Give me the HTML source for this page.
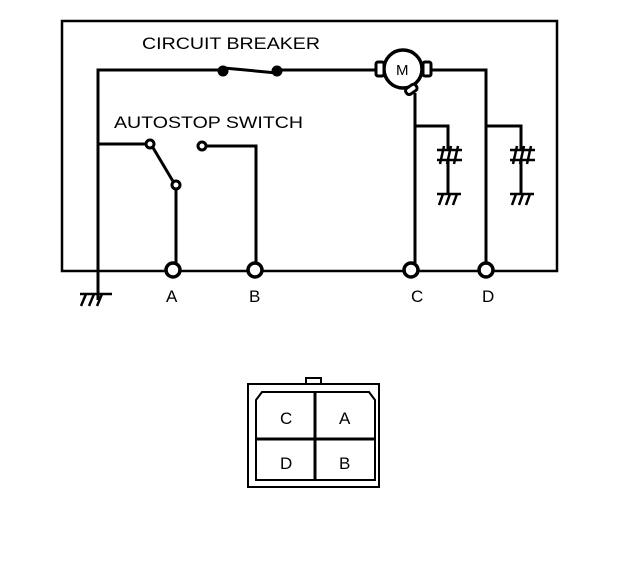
<!DOCTYPE html>
<html><head><style>
body{margin:0;background:#fff;width:640px;height:568px;overflow:hidden}
text{font-family:"Liberation Sans",sans-serif;fill:#000}
</style></head><body>
<svg width="640" height="568" viewBox="0 0 640 568" xmlns="http://www.w3.org/2000/svg">
<g fill="none" stroke="#000" stroke-width="3">
<rect x="62" y="21" width="495" height="250" stroke-width="2.5"/>
<path d="M98 300 V70 H222 M224 68 L277 73 M277 70 H380 M432 70 H486 V270"/>
<circle cx="223" cy="71" r="4" fill="#000"/>
<circle cx="277" cy="71" r="4" fill="#000"/>
<circle cx="403" cy="69" r="19" fill="#fff" stroke-width="3.5"/>
<rect x="376" y="62" width="8" height="14" rx="2" fill="#fff"/>
<rect x="423" y="62" width="8" height="14" rx="2" fill="#fff"/>
<rect x="405" y="86" width="12" height="7" rx="3" fill="#fff" transform="rotate(-35 411 89)"/>
<path d="M98 144 H148 M152 146 L174 183 M176 188 V263"/>
<circle cx="150" cy="144" r="4" fill="#fff"/>
<circle cx="176" cy="185" r="4" fill="#fff"/>
<circle cx="202" cy="146" r="4" fill="#fff"/>
<path d="M206 146 H256 V263"/>
<path d="M415 93 V263 M415 126 H448 V150 M448 160 V193"/>
<path d="M486 126 H521 V150 M521 160 V193"/>
<g stroke-width="2.5">
<path d="M437 150 H462 M437 160 H462 M444 146 L440 164 M451 146 L447 164 M458 146 L454 164"/>
<path d="M510 150 H535 M510 160 H535 M517 146 L513 164 M524 146 L520 164 M531 146 L527 164"/>
<path d="M437 194 H461 M443 194 L439 205 M450 194 L446 205 M457 194 L453 205"/>
<path d="M510 194 H534 M516 194 L512 205 M523 194 L519 205 M530 194 L526 205"/>
<path d="M80 294 H112 M86 294 L81 306 M94 294 L89 306 M102 294 L97 306"/>
</g>
<g fill="#fff" stroke-width="3.5">
<circle cx="173" cy="270" r="7"/>
<circle cx="255" cy="270" r="7"/>
<circle cx="411" cy="270" r="7"/>
<circle cx="486" cy="270" r="7"/>
</g>
<rect x="306" y="378" width="15" height="6" stroke-width="2"/>
<rect x="248" y="384" width="131" height="103" stroke-width="2"/>
<path d="M256 400 L262 392 H369 L375 400 V480 H256 Z" stroke-width="2"/>
<path d="M315 392 V480 M256 439 H375" stroke-width="3"/>
</g>
<g font-size="17">
<text x="142" y="49" textLength="178" lengthAdjust="spacingAndGlyphs">CIRCUIT BREAKER</text>
<text x="114" y="128" textLength="189" lengthAdjust="spacingAndGlyphs">AUTOSTOP SWITCH</text>
<text x="396" y="75" font-size="15">M</text>
<text x="166" y="302">A</text>
<text x="249" y="302">B</text>
<text x="411" y="302">C</text>
<text x="482" y="302">D</text>
<text x="280" y="424">C</text>
<text x="339" y="424">A</text>
<text x="280" y="469">D</text>
<text x="339" y="469">B</text>
</g>
</svg>
</body></html>
